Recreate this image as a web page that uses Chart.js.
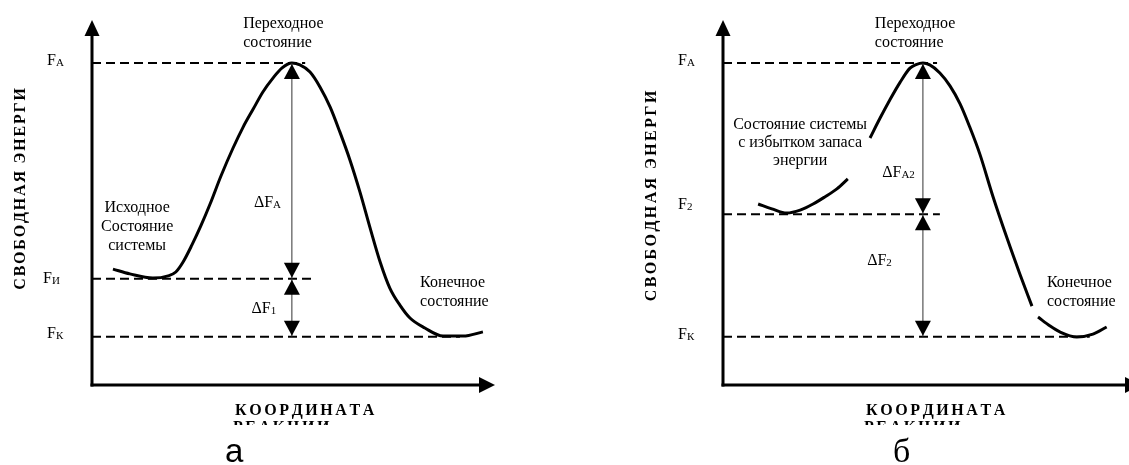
<!DOCTYPE html>
<html><head><meta charset="utf-8">
<script src="https://cdn.jsdelivr.net/npm/chart.js@4"></script>
<style>
html,body{margin:0;padding:0;background:#fff;overflow:hidden;width:1129px;height:465px;position:relative;}
#wa{position:absolute;left:0;top:0;width:565px;height:465px;}
#wb{position:absolute;left:565px;top:0;width:600px;height:465px;}
</style></head><body>
<div id="wa"><canvas id="ca" width="565" height="465"></canvas></div>
<div id="wb"><canvas id="cb" width="600" height="465"></canvas></div>
<script>
// ---------- DATA (reaction coordinate 0..100, free energy with F_A = 100) ----------
const curveA_x = [5.2, 9.4, 15.1, 18.9, 20.8, 22.6, 24.8, 27.0, 29.3, 32.0, 35.0, 37.5, 40.0, 42.4, 44.9, 47.1, 49.6,
                  51.6, 54.1, 56.6, 59.1, 61.5, 64.0, 66.5, 69.0, 71.5, 73.9, 76.4, 78.9, 82.6, 87.1, 92.1, 97.0];
const curveA_y = [36.0, 34.5, 33.2, 33.9, 35.1, 38.2, 43.5, 49.4, 56.2, 64.9, 73.6, 80.1, 85.7, 91.0, 95.3, 98.4, 100,
                  99.4, 97.2, 92.5, 86.3, 78.6, 69.9, 59.9, 48.8, 38.2, 30.1, 24.8, 20.8, 17.7, 15.2, 15.2, 16.5];
const levelsA = [100, 33, 15];
const levelsA_end = [52.9, 54.6, 91.3];
const levelNamesA = ['A', 'И', 'К'];
const deltaNamesA = ['A', '1'];

const curveB_x = [8.7, 12.1, 15.8, 19.1, 22.3, 25.2, 28.2, 30.9, 33.6,
                  36.4, 38.9, 41.3, 43.8, 46.3, 47.8, 49.5, 51.2, 53.7, 56.2, 58.7, 61.1, 63.6, 66.8, 70.3, 73.5, 76.5, 77.2,
                  78.0, 81.0, 83.4, 87.6, 91.6, 95.0];
const curveB_y = [56.2, 54.7, 53.4, 54.3, 56.2, 58.4, 60.9, 64.0, null,
                  76.7, 82.9, 88.5, 93.9, 98.4, 99.5, 100, 99.4, 96.9, 92.9, 87.3, 80.1, 71.7, 58.7, 45.7, 34.5, 24.5, null,
                  21.1, 18.3, 16.5, 14.9, 15.8, 18.0];
const levelsB = [100, 53, 15];
const levelsB_end = [53, 53.7, 90.8];
const levelNamesB = ['A', '2', 'К'];
const deltaNamesB = ['A2', '2'];

const yTitle = 'СВОБОДНАЯ ЭНЕРГИ';
const xTitle1 = 'КООРДИНАТА';
const xTitle2 = 'РЕАКЦИИ';

// ---------- drawing helpers ----------
function arrowHead(ctx, x, y, dir, w, h) {
  ctx.beginPath();
  if (dir === 'up') { ctx.moveTo(x, y); ctx.lineTo(x - w / 2, y + h); ctx.lineTo(x + w / 2, y + h); }
  else if (dir === 'down') { ctx.moveTo(x, y); ctx.lineTo(x - w / 2, y - h); ctx.lineTo(x + w / 2, y - h); }
  else { ctx.moveTo(x, y); ctx.lineTo(x - h, y - w / 2); ctx.lineTo(x - h, y + w / 2); }
  ctx.closePath(); ctx.fill();
}
function spaced(ctx, text, x, y, sp, center) {
  let tot = 0; for (const ch of text) tot += ctx.measureText(ch).width + sp; tot -= sp;
  let cx = center ? x - tot / 2 : x;
  ctx.textAlign = 'left';
  for (const ch of text) { ctx.fillText(ch, cx, y); cx += ctx.measureText(ch).width + sp; }
}
function subText(ctx, main, sub, x, y, align) {
  ctx.font = '16px "Liberation Serif"';
  const w1 = ctx.measureText(main).width;
  ctx.font = '11px "Liberation Serif"';
  const w2 = ctx.measureText(sub).width;
  let x0 = align === 'right' ? x - w1 - w2 : x;
  ctx.textAlign = 'left';
  ctx.font = '16px "Liberation Serif"'; ctx.fillText(main, x0, y);
  ctx.font = '11px "Liberation Serif"'; ctx.fillText(sub, x0 + w1, y + 1);
}

const diagram = {
  id: 'diagram',
  afterDatasetsDraw(chart, args, o) {
    const p = o.panel, ctx = chart.ctx, ca = chart.chartArea;
    const X = v => chart.scales.x.getPixelForValue(v), Y = v => chart.scales.y.getPixelForValue(v);
    ctx.save();
    ctx.fillStyle = '#000'; ctx.strokeStyle = '#000'; ctx.textBaseline = 'alphabetic';
    // axes with arrows
    ctx.lineWidth = 3;
    ctx.beginPath(); ctx.moveTo(ca.left, ca.bottom + 1.5); ctx.lineTo(ca.left, ca.top + 10); ctx.stroke();
    arrowHead(ctx, ca.left, ca.top, 'up', 15, 16);
    ctx.beginPath(); ctx.moveTo(ca.left - 1.5, ca.bottom); ctx.lineTo(ca.right - 10, ca.bottom); ctx.stroke();
    arrowHead(ctx, ca.right, ca.bottom, 'right', 16, 16);
    // vertical double arrows
    const ax = X(p.arrowX);
    const lv = p.levels;
    ctx.strokeStyle = '#333'; ctx.lineWidth = 1;
    ctx.beginPath(); ctx.moveTo(ax, Y(lv[0])); ctx.lineTo(ax, Y(lv[2])); ctx.stroke();
    ctx.fillStyle = '#000';
    for (let i = 0; i < 2; i++) {
      arrowHead(ctx, ax, Y(lv[i]) + 1, 'up', 16, 15);
      arrowHead(ctx, ax, Y(lv[i + 1]) - 1, 'down', 16, 15);
    }
    // delta labels
    p.deltas.forEach((d, i) => subText(ctx, 'ΔF', p.deltaNames[i], X(d.x), Y(d.y), 'right'));
    // level labels
    lv.forEach((v, i) => subText(ctx, 'F', p.levelNames[i], ca.left - 45 + p.levelDx[i], Y(v) + p.levelDy[i], 'left'));
    // annotations
    ctx.font = '16px "Liberation Serif"';
    p.notes.forEach(n => {
      ctx.textAlign = n.align;
      n.lines.forEach((t, k) => ctx.fillText(t, X(n.x), Y(n.y) + k * n.lh));
    });
    // y title
    ctx.font = 'bold 16px "Liberation Serif"';
    ctx.save();
    ctx.translate(ca.left - 67, Y(p.yTitleC));
    ctx.rotate(-Math.PI / 2);
    spaced(ctx, yTitle, 0, 0, p.ySp, true);
    ctx.restore();
    // x title
    spaced(ctx, xTitle1, ca.left + 143, ca.bottom + 30, 2.6, false);
    ctx.save();
    ctx.beginPath(); ctx.rect(0, 0, chart.width, ca.bottom + 40); ctx.clip();
    spaced(ctx, xTitle2, ca.left + 141, ca.bottom + 47, 2.6, false);
    ctx.restore();
    // panel letter
    ctx.font = p.letterFont; ctx.textAlign = 'left';
    ctx.fillText(p.letter, ca.left + p.letterDx, 462);
    ctx.restore();
  }
};

function makeChart(id, cx, cy, levels, ends, xmax, pad, panel) {
  const pts = cx.map((x, i) => ({ x: x, y: cy[i] }));
  const ds = [{ data: pts, borderColor: '#000', borderWidth: 3, pointRadius: 0, cubicInterpolationMode: 'monotone', spanGaps: false, fill: false, clip: false }];
  levels.forEach((v, i) => ds.push({ data: [{ x: 0, y: v }, { x: ends[i], y: v }], borderColor: '#000', borderWidth: 2, borderDash: [9, 5], pointRadius: 0, fill: false, clip: false }));
  return new Chart(document.getElementById(id), {
    type: 'line',
    data: { datasets: ds },
    options: {
      responsive: false, animation: false, devicePixelRatio: 1,
      layout: { padding: pad },
      plugins: { legend: { display: false }, tooltip: { enabled: false }, title: { display: false }, diagram: { panel: panel } },
      scales: {
        x: { type: 'linear', min: 0, max: xmax, display: false },
        y: { type: 'linear', min: 0, max: 113.35, display: false }
      }
    },
    plugins: [diagram]
  });
}

makeChart('ca', curveA_x, curveA_y, levelsA, levelsA_end, 100, { left: 92, top: 20, right: 565 - 495, bottom: 80 }, {
  arrowX: 49.6, levels: levelsA, levelNames: levelNamesA, levelDx: [0, -4, 0], levelDy: [2, 4, 1],
  deltaNames: deltaNamesA, deltas: [{ x: 46.9, y: 55.3 }, { x: 45.7, y: 22.4 }],
  notes: [
    { lines: ['Переходное', 'состояние'], x: 37.5, y: 110.9, align: 'left', lh: 19 },
    { lines: ['Исходное', 'Состояние', 'системы'], x: 11.2, y: 53.7, align: 'center', lh: 19 },
    { lines: ['Конечное', 'состояние'], x: 81.4, y: 30.4, align: 'left', lh: 19 }
  ],
  yTitleC: 60.9, ySp: 1.8,
  letter: 'а', letterDx: 133, letterFont: '33px "Liberation Sans"'
});

makeChart('cb', curveB_x, curveB_y, levelsB, levelsB_end, 103.5, { left: 158, top: 20, right: 24, bottom: 80 }, {
  arrowX: 49.5, levels: levelsB, levelNames: levelNamesB, levelDx: [0, 0, 0], levelDy: [2, -5, 2],
  deltaNames: deltaNamesB, deltas: [{ x: 47.5, y: 64.6 }, { x: 41.8, y: 37.3 }],
  notes: [
    { lines: ['Переходное', 'состояние'], x: 37.6, y: 110.9, align: 'left', lh: 19 },
    { lines: ['Состояние системы', 'с избытком запаса', 'энергии'], x: 19.1, y: 79.5, align: 'center', lh: 18 },
    { lines: ['Конечное', 'состояние'], x: 80.2, y: 30.4, align: 'left', lh: 19 }
  ],
  yTitleC: 58.7, ySp: 2.4,
  letter: 'б', letterDx: 170, letterFont: '34px "Liberation Serif"'
});
</script>
</body></html>
